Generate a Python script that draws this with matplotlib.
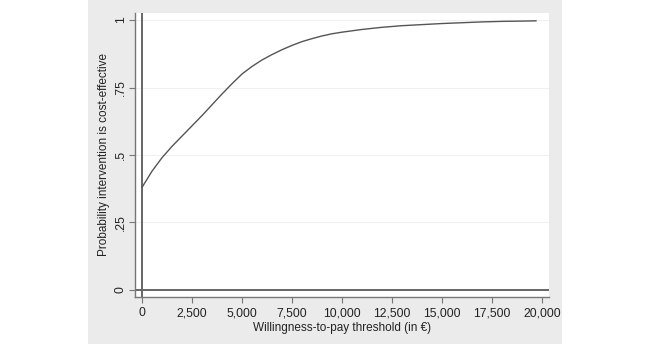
import matplotlib
matplotlib.use("Agg")
import matplotlib.pyplot as plt
from matplotlib.patches import Rectangle
from matplotlib.ticker import FuncFormatter

plt.rcParams['font.family'] = ['Liberation Sans', 'DejaVu Sans']

# acceptability curve
wtp = [0, 500, 1000, 1500, 2000, 2500, 3000, 3500, 4000, 4500, 5000, 5500,
       6000, 6500, 7000, 7500, 8000, 8500, 9000, 9500, 10000, 11000, 12000,
       13000, 14000, 15000, 16000, 17000, 18000, 19000, 19700]
prob = [0.38, 0.44, 0.49, 0.532, 0.57, 0.608, 0.646, 0.686, 0.726, 0.764,
        0.80, 0.828, 0.852, 0.872, 0.89, 0.906, 0.92, 0.931, 0.941, 0.949,
        0.955, 0.965, 0.973, 0.979, 0.983, 0.987, 0.99, 0.993, 0.995, 0.996,
        0.997]

x_ticks = [0, 2500, 5000, 7500, 10000, 12500, 15000, 17500, 20000]
y_ticks = [0, 0.25, 0.5, 0.75, 1]
y_labels = ["0", ".25", ".5", ".75", "1"]

fig = plt.figure(figsize=(6.5, 3.44), dpi=100)
fig.patch.set_facecolor("white")
# stata-ish grey graph region, kept behind the axes
fig.patches.append(Rectangle((88 / 650, 0), (562 - 88) / 650, 1,
                             transform=fig.transFigure, facecolor="#ebebeb",
                             edgecolor="none", zorder=-10))

ax = fig.add_axes([135 / 650, 1 - 297 / 344, (549 - 135) / 650, (297 - 13) / 344])
ax.set_facecolor("white")

ax.plot(wtp, prob, color="#555555", lw=1.0, zorder=3)
ax.axvline(0, color="#666666", lw=1.4, zorder=2)
ax.axhline(0, color="#666666", lw=1.4, zorder=2)

ax.set_xlim(-350, 20350)
ax.set_ylim(-0.026, 1.026)
ax.set_xticks(x_ticks)
ax.xaxis.set_major_formatter(FuncFormatter(lambda v, p: f"{int(v):,}"))
ax.set_yticks(y_ticks)
ax.set_yticklabels(y_labels, rotation=90, va="center")
ax.yaxis.grid(True, color="#f0f0f0", lw=0.8)
ax.set_axisbelow(True)

for side in ["top", "right"]:
    ax.spines[side].set_visible(False)
for side in ["left", "bottom"]:
    ax.spines[side].set_color("#777777")
    ax.spines[side].set_linewidth(1.0)
ax.tick_params(colors="#777777", labelcolor="#222222", labelsize=8.8,
               length=4, width=0.8, direction="out")
ax.tick_params(axis="y", pad=2)

ax.set_xlabel("Willingness-to-pay threshold (in \u20ac)", fontsize=8.5,
              color="#222222", labelpad=2)
ax.set_ylabel("Probability intervention is cost-effective", fontsize=8.5,
              color="#222222", labelpad=3)

fig.savefig("out.png", dpi=100)
